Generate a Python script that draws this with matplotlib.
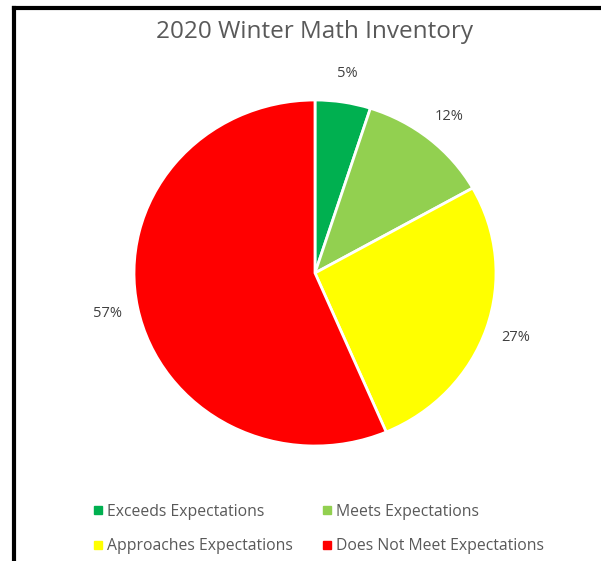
import matplotlib.pyplot as plt
from matplotlib.lines import Line2D

plt.rcParams['font.family'] = ['Open Sans', 'DejaVu Sans']

categories = ['Exceeds Expectations', 'Meets Expectations',
              'Approaches Expectations', 'Does Not Meet Expectations']
values = [5, 12, 27, 57]
labels = ['5%', '12%', '27%', '57%']
colors = ['#00B050', '#92D050', '#FFFF00', '#FF0000']

W, H = 601, 561
fig = plt.figure(figsize=(W / 100, H / 100), dpi=100)

# border (left + top only, picture is cropped)
fig.add_artist(Line2D([14 / W, 14 / W], [0, 1 - 8 / H], color='black', lw=3, transform=fig.transFigure))
fig.add_artist(Line2D([14 / W, 1], [1 - 8 / H, 1 - 8 / H], color='black', lw=3, transform=fig.transFigure))

# pie axes, center (315, 273), radii 181 x 173 px
cx, cy, rx, ry = 315, 273, 181, 173
ax = fig.add_axes([(cx - rx) / W, (H - cy - ry) / H, 2 * rx / W, 2 * ry / H])
wedges, texts = ax.pie(values, labels=labels, colors=colors, startangle=90,
                       counterclock=False, labeldistance=1.17,
                       wedgeprops=dict(edgecolor='white', linewidth=2),
                       textprops=dict(color='#404040', fontsize=10.5))
for t in texts:
    t.set_horizontalalignment('center')
    t.set_verticalalignment('center')
ax.set_aspect('auto')
ax.set_xlim(-1, 1)
ax.set_ylim(-1, 1)
ax.axis('off')

fig.text(315 / W, 1 - 32 / H, '2020 Winter Math Inventory', ha='center', va='center',
         fontsize=17.5, color='#595959')

# legend is filled row by row in the reference
order = [0, 2, 1, 3]
handles = [Line2D([], [], marker='s', linestyle='', markersize=6, color=colors[i]) for i in order]
fig.legend(handles, [categories[i] for i in order], ncol=2, loc='center left',
           bbox_to_anchor=(76 / W, 1 - 529 / H), frameon=False,
           fontsize=11.3, labelcolor='#595959', handletextpad=0.1,
           columnspacing=1.65, handlelength=1.0, labelspacing=1.15)

fig.savefig('out.png', dpi=100)
